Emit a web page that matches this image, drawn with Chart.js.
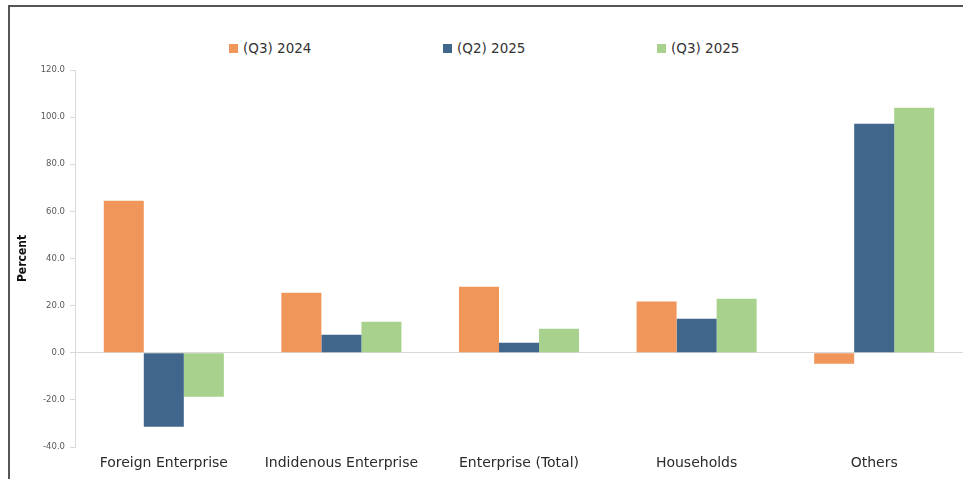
<!DOCTYPE html>
<html>
<head>
<meta charset="utf-8">
<script src="https://cdn.jsdelivr.net/npm/chart.js@4"></script>
<style>
  html, body { margin: 0; padding: 0; background: #fff; }
  #wrap { position: relative; width: 963px; height: 479px; overflow: hidden; }
  #frame { position: absolute; left: 8px; top: 5px; width: 960px; height: 480px;
           border-top: 2px solid #555; border-left: 2px solid #555; }
  #grafica { position: absolute; left: 0; top: 0; }
  #leyenda { position: absolute; top: 40px; left: 0; width: 963px; height: 18px; }
  .item { position: absolute; top: 0; font: 13.5px "DejaVu Sans", sans-serif; color: #333; white-space: nowrap; }
  .item span { display: inline-block; width: 9px; height: 9px; margin-right: 5px; }
</style>
</head>
<body>
<div id="wrap">
  <div id="frame"></div>
  <div id="leyenda"></div>
  <canvas id="grafica" width="963" height="479"></canvas>
</div>
<script>
const categorias = ["Foreign Enterprise", "Indidenous Enterprise", "Enterprise (Total)", "Households", "Others"];
const series = ["(Q3) 2024", "(Q2) 2025", "(Q3) 2025"];
const q3_2024 = [64.5, 25.5, 28.0, 21.7, -4.7];
const q2_2025 = [-31.4, 7.6, 4.2, 14.4, 97.2];
const q3_2025 = [-18.7, 13.2, 10.2, 22.9, 104.0];
const colores = ["#F0965A", "#41668C", "#A8D18D"];

const valores = [q3_2024, q2_2025, q3_2025];

// leyenda en html, espaciada como el original
const posLeyenda = [229, 443, 657];
const $ley = document.querySelector("#leyenda");
series.forEach(function (s, i) {
    const d = document.createElement("div");
    d.className = "item";
    d.style.left = posLeyenda[i] + "px";
    d.innerHTML = '<span style="background:' + colores[i] + '"></span>' + s;
    $ley.appendChild(d);
});

const $grafica = document.querySelector("#grafica");
new Chart($grafica, {
    type: 'bar',
    data: {
        labels: categorias,
        datasets: series.map(function (s, i) {
            return {
                label: s,
                data: valores[i],
                backgroundColor: colores[i],
                borderWidth: 0,
                categoryPercentage: 0.676,
                barPercentage: 1.0
            };
        })
    },
    options: {
        responsive: false,
        animation: false,
        layout: { padding: { top: 70, left: 16, right: 0, bottom: 0 } },
        plugins: {
            legend: { display: false },
            tooltip: { enabled: false }
        },
        scales: {
            x: {
                grid: { display: false, drawTicks: false },
                border: { display: false },
                ticks: {
                    color: '#2b2b2b',
                    padding: 8,
                    maxRotation: 0,
                    font: { family: 'DejaVu Sans', size: 14 }
                },
                afterFit: function (scale) { scale.height = 32; }
            },
            y: {
                min: -40,
                max: 120,
                ticks: {
                    stepSize: 20,
                    color: '#595959',
                    padding: 5,
                    font: { family: 'DejaVu Sans', size: 8.5 },
                    callback: function (v) { return v.toFixed(1); }
                },
                grid: {
                    color: function (ctx) { return ctx.tick && ctx.tick.value === 0 ? '#d9d9d9' : 'rgba(0,0,0,0)'; },
                    tickColor: '#d9d9d9',
                    tickLength: 5,
                    lineWidth: 1
                },
                border: { color: '#d9d9d9' },
                title: {
                    display: true,
                    text: 'Percent',
                    color: '#111',
                    font: { family: '"DejaVu Sans Condensed", "Liberation Sans", sans-serif', size: 12, weight: 'bold' },
                    padding: 0
                },
                afterFit: function (scale) { scale.width = 59; }
            }
        }
    }
});
</script>
</body>
</html>
